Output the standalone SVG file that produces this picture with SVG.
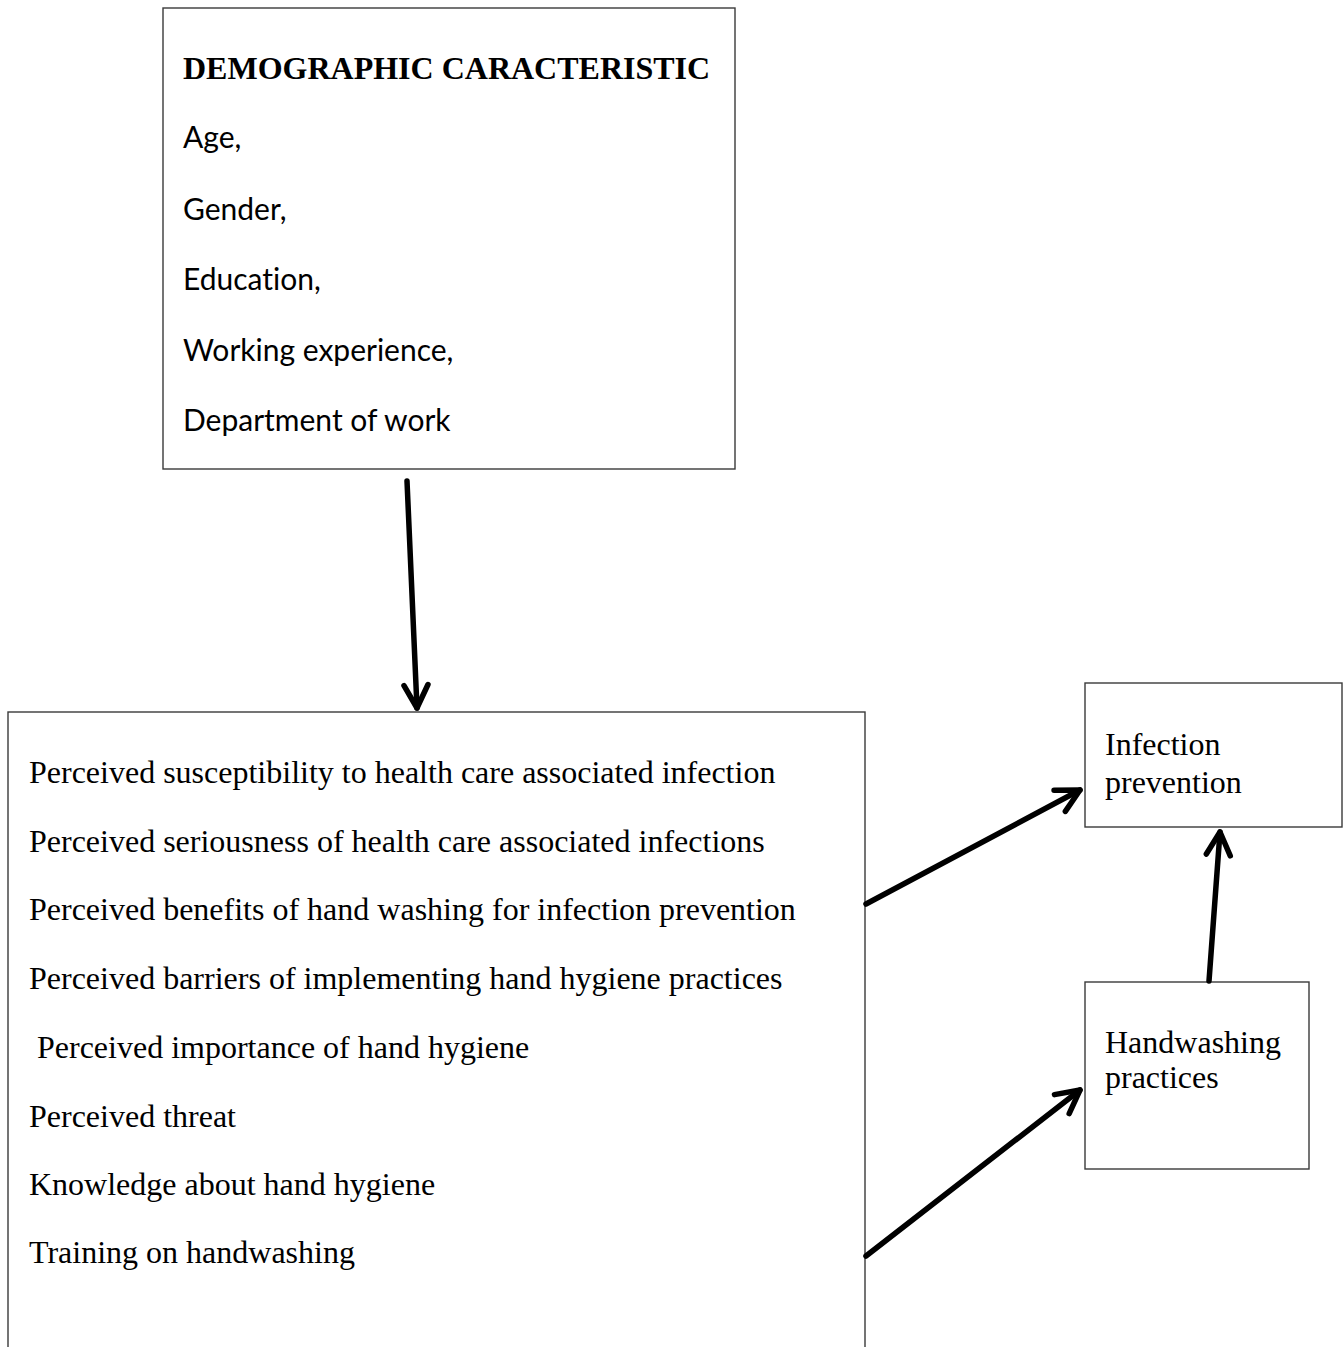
<svg xmlns="http://www.w3.org/2000/svg" width="1343" height="1347" viewBox="0 0 1343 1347">
<style>
.box{fill:#fff;stroke:#3a3a3a;stroke-width:1.4}
.serif{font-family:"Liberation Serif","Times New Roman",serif;font-size:32px;fill:#000}
.bold{font-weight:bold}
.sans{font-family:Lato,"Open Sans","Liberation Sans",sans-serif;font-size:30px;fill:#000;font-variant-ligatures:none}
.conn{stroke:#000;stroke-width:5.5;fill:none;stroke-linecap:round}
</style>
<defs>
<marker id="arr" markerUnits="userSpaceOnUse" markerWidth="40" markerHeight="40" refX="0" refY="0" viewBox="-30 -20 40 40" orient="auto" overflow="visible">
<path d="M-23,-12 L0,0 L-23,12" fill="none" stroke="#000" stroke-width="5.5" stroke-linecap="round" stroke-linejoin="round"/>
</marker>
</defs>
<rect width="1343" height="1347" fill="#fff"/>
<g id="demographic">
<rect class="box" x="163" y="8" width="572" height="461"/>
<text class="serif bold" x="183" y="79">DEMOGRAPHIC CARACTERISTIC</text>
<text class="sans" x="183" y="148">Age,</text>
<text class="sans" x="183" y="220">Gender,</text>
<text class="sans" x="183" y="290">Education,</text>
<text class="sans" x="183" y="361">Working experience,</text>
<text class="sans" x="183" y="431">Department of work</text>
</g>
<g id="perceptions">
<rect class="box" x="8" y="712" width="857" height="700"/>
<text class="serif" x="29" y="783">Perceived susceptibility to health care associated infection</text>
<text class="serif" x="29" y="852">Perceived seriousness of health care associated infections</text>
<text class="serif" x="29" y="920">Perceived benefits of hand washing for infection prevention</text>
<text class="serif" x="29" y="989">Perceived barriers of implementing hand hygiene practices</text>
<text class="serif" x="37" y="1058">Perceived importance of hand hygiene</text>
<text class="serif" x="29" y="1127">Perceived threat</text>
<text class="serif" x="29" y="1195">Knowledge about hand hygiene</text>
<text class="serif" x="29" y="1263">Training on handwashing</text>
</g>
<g id="infection-prevention">
<rect class="box" x="1085" y="683" width="257" height="144"/>
<text class="serif" x="1105" y="755">Infection</text>
<text class="serif" x="1105" y="793">prevention</text>
</g>
<g id="handwashing-practices">
<rect class="box" x="1085" y="982" width="224" height="187"/>
<text class="serif" x="1105" y="1053">Handwashing</text>
<text class="serif" x="1105" y="1088">practices</text>
</g>
<g id="connectors">
<line class="conn" x1="407" y1="481" x2="417" y2="708" marker-end="url(#arr)"/>
<line class="conn" x1="866" y1="904" x2="1080" y2="790" marker-end="url(#arr)"/>
<line class="conn" x1="866" y1="1256" x2="1080" y2="1090" marker-end="url(#arr)"/>
<line class="conn" x1="1209" y1="981" x2="1220" y2="832" marker-end="url(#arr)"/>
</g>
</svg>
